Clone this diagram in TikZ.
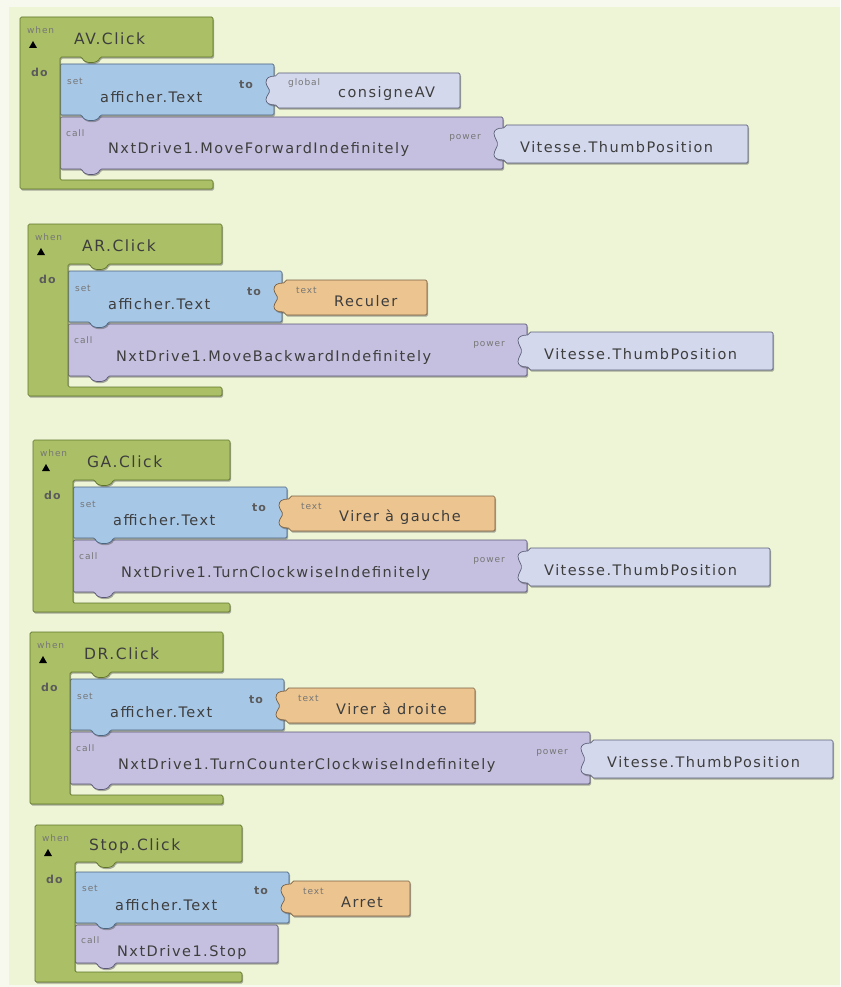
\documentclass[tikz,border=0pt]{standalone}
\usepackage{fontspec}
\setmainfont{DejaVu Sans}
\newfontfamily\blkfont[LetterSpace=10]{DejaVu Sans}
\usetikzlibrary{shadows}
\definecolor{bgpage}{HTML}{F7F9EF}
\definecolor{bgwork}{HTML}{EEF5D7}
\definecolor{evgreen}{HTML}{ABC066}
\definecolor{evline}{HTML}{5F7428}
\definecolor{setblue}{HTML}{A7C7E7}
\definecolor{setline}{HTML}{4B6480}
\definecolor{callpurple}{HTML}{C5C0DF}
\definecolor{callline}{HTML}{5A5676}
\definecolor{getlav}{HTML}{D3D8EC}
\definecolor{getline}{HTML}{5C6078}
\definecolor{txtorange}{HTML}{ECC48F}
\definecolor{txtline}{HTML}{7A6040}
\definecolor{lbldark}{HTML}{3E3E3E}
\definecolor{lblgray}{HTML}{767676}
\begin{document}
\begin{tikzpicture}[x=1pt,y=-1pt,
	blk/.style={line width=0.7pt, line join=round, rounded corners=1.5pt,
		drop shadow={shadow xshift=1pt,shadow yshift=-1.6pt,opacity=.45,fill=black!70}},
	evblk/.style={blk, fill=evgreen, draw=evline},
	setblk/.style={blk, fill=setblue, draw=setline},
	callblk/.style={blk, fill=callpurple, draw=callline},
	getblk/.style={blk, fill=getlav, draw=getline},
	strblk/.style={blk, fill=txtorange, draw=txtline},
	mainlbl/.style={font=\blkfont\fontsize{14.5}{16}\selectfont, text=lbldark, inner sep=0pt},
	evlbl/.style={font=\blkfont\fontsize{15.5}{17}\selectfont, text=lbldark, inner sep=0pt},
	smalllbl/.style={font=\blkfont\fontsize{9}{10}\selectfont, text=lblgray, inner sep=0pt},
	kwlbl/.style={font=\blkfont\fontsize{11}{12}\selectfont\bfseries, text=lbldark!85, inner sep=0pt}]

		\useasboundingbox[fill=bgpage] (0,0) rectangle (840,987);
		\fill[bgwork] (9,7) rectangle (840,985);

		% AV
		\begin{scope}[shift={(20,17)}]
		\path[callblk] (40,100) -- (483,100) -- (483,152) -- (80,152) .. controls (78,159) and (64,159) .. (62,152) -- (40,152) -- cycle;
		\path[getblk] (485,108) -- (728,108) -- (728,146) -- (485,146) -- (485,143) .. controls (477,143) and (474,141) .. (474,136) -- (478,127) -- (474,118) .. controls (474,113) and (477,111) .. (485,111) -- cycle;
		\path[setblk] (40,47) -- (254,47) -- (254,98) -- (80,98) .. controls (78,105) and (64,105) .. (62,98) -- (40,98) -- cycle;
		\path[getblk] (257,56) -- (440,56) -- (440,91) -- (257,91) -- (257,88) .. controls (249,88) and (246,86) .. (246,81) -- (250,74) -- (246,67) .. controls (246,61) and (249,59) .. (257,59) -- cycle;
		\path[evblk] (0,0) -- (193,0) -- (193,40) -- (80,40) .. controls (78,47) and (64,47) .. (62,40) -- (40,40) -- (40,163) -- (193,163) -- (193,172) -- (0,172) -- cycle;
		\fill[black] (9,31) -- (17,31) -- (13,24) -- cycle;
		\node[smalllbl, anchor=west] (avWhen) at (7,13) {when};
		\node[evlbl, anchor=west] (avEvt) at (54,22) {AV.Click};
		\node[kwlbl, anchor=west] (avDo) at (11,55) {do};
		\node[smalllbl, anchor=west] (avSet) at (47,64) {set};
		\node[mainlbl, anchor=west] (avComp) at (80,80) {afficher.Text};
		\node[kwlbl] (avTo) at (226,68) {to};
		\node[smalllbl, anchor=west] (avVlab) at (268,66) {global};
		\node[mainlbl, anchor=west] (avVal) at (318,77) {consigneAV};
		\node[smalllbl, anchor=west] (avCall) at (46,116) {call};
		\node[mainlbl, anchor=west] (avMeth) at (88,133) {NxtDrive1.MoveForwardIndefinitely};
		\node[smalllbl, anchor=east] (avPow) at (461,121) {power};
		\node[mainlbl, anchor=west] (avArg) at (500,130) {Vitesse.ThumbPosition};
		\end{scope}

		% AR
		\begin{scope}[shift={(28,224)}]
		\path[callblk] (40,100) -- (499,100) -- (499,152) -- (80,152) .. controls (78,159) and (64,159) .. (62,152) -- (40,152) -- cycle;
		\path[getblk] (501,108) -- (745,108) -- (745,146) -- (501,146) -- (501,143) .. controls (493,143) and (490,141) .. (490,136) -- (494,127) -- (490,118) .. controls (490,113) and (493,111) .. (501,111) -- cycle;
		\path[setblk] (40,47) -- (254,47) -- (254,98) -- (80,98) .. controls (78,105) and (64,105) .. (62,98) -- (40,98) -- cycle;
		\path[strblk] (257,56) -- (399,56) -- (399,91) -- (257,91) -- (257,88) .. controls (249,88) and (246,86) .. (246,81) -- (250,74) -- (246,67) .. controls (246,61) and (249,59) .. (257,59) -- cycle;
		\path[evblk] (0,0) -- (194,0) -- (194,40) -- (80,40) .. controls (78,47) and (64,47) .. (62,40) -- (40,40) -- (40,163) -- (194,163) -- (194,172) -- (0,172) -- cycle;
		\fill[black] (9,31) -- (17,31) -- (13,24) -- cycle;
		\node[smalllbl, anchor=west] (arWhen) at (7,13) {when};
		\node[evlbl, anchor=west] (arEvt) at (54,22) {AR.Click};
		\node[kwlbl, anchor=west] (arDo) at (11,55) {do};
		\node[smalllbl, anchor=west] (arSet) at (47,64) {set};
		\node[mainlbl, anchor=west] (arComp) at (80,80) {afficher.Text};
		\node[kwlbl] (arTo) at (226,68) {to};
		\node[smalllbl, anchor=west] (arVlab) at (268,66) {text};
		\node[mainlbl, anchor=west] (arVal) at (306,77) {Reculer};
		\node[smalllbl, anchor=west] (arCall) at (46,116) {call};
		\node[mainlbl, anchor=west] (arMeth) at (88,133) {NxtDrive1.MoveBackwardIndefinitely};
		\node[smalllbl, anchor=east] (arPow) at (477,121) {power};
		\node[mainlbl, anchor=west] (arArg) at (516,130) {Vitesse.ThumbPosition};
		\end{scope}

		% GA
		\begin{scope}[shift={(33,440)}]
		\path[callblk] (40,100) -- (494,100) -- (494,152) -- (80,152) .. controls (78,159) and (64,159) .. (62,152) -- (40,152) -- cycle;
		\path[getblk] (496,108) -- (737,108) -- (737,146) -- (496,146) -- (496,143) .. controls (488,143) and (485,141) .. (485,136) -- (489,127) -- (485,118) .. controls (485,113) and (488,111) .. (496,111) -- cycle;
		\path[setblk] (40,47) -- (254,47) -- (254,98) -- (80,98) .. controls (78,105) and (64,105) .. (62,98) -- (40,98) -- cycle;
		\path[strblk] (257,56) -- (462,56) -- (462,91) -- (257,91) -- (257,88) .. controls (249,88) and (246,86) .. (246,81) -- (250,74) -- (246,67) .. controls (246,61) and (249,59) .. (257,59) -- cycle;
		\path[evblk] (0,0) -- (197,0) -- (197,40) -- (80,40) .. controls (78,47) and (64,47) .. (62,40) -- (40,40) -- (40,163) -- (197,163) -- (197,172) -- (0,172) -- cycle;
		\fill[black] (9,31) -- (17,31) -- (13,24) -- cycle;
		\node[smalllbl, anchor=west] (gaWhen) at (7,13) {when};
		\node[evlbl, anchor=west] (gaEvt) at (54,22) {GA.Click};
		\node[kwlbl, anchor=west] (gaDo) at (11,55) {do};
		\node[smalllbl, anchor=west] (gaSet) at (47,64) {set};
		\node[mainlbl, anchor=west] (gaComp) at (80,80) {afficher.Text};
		\node[kwlbl] (gaTo) at (226,68) {to};
		\node[smalllbl, anchor=west] (gaVlab) at (268,66) {text};
		\node[mainlbl, anchor=west] (gaVal) at (306,77) {Virer à gauche};
		\node[smalllbl, anchor=west] (gaCall) at (46,116) {call};
		\node[mainlbl, anchor=west] (gaMeth) at (88,133) {NxtDrive1.TurnClockwiseIndefinitely};
		\node[smalllbl, anchor=east] (gaPow) at (472,121) {power};
		\node[mainlbl, anchor=west] (gaArg) at (511,130) {Vitesse.ThumbPosition};
		\end{scope}

		% DR
		\begin{scope}[shift={(30,632)}]
		\path[callblk] (40,100) -- (560,100) -- (560,152) -- (80,152) .. controls (78,159) and (64,159) .. (62,152) -- (40,152) -- cycle;
		\path[getblk] (562,108) -- (803,108) -- (803,146) -- (562,146) -- (562,143) .. controls (554,143) and (551,141) .. (551,136) -- (555,127) -- (551,118) .. controls (551,113) and (554,111) .. (562,111) -- cycle;
		\path[setblk] (40,47) -- (254,47) -- (254,98) -- (80,98) .. controls (78,105) and (64,105) .. (62,98) -- (40,98) -- cycle;
		\path[strblk] (257,56) -- (445,56) -- (445,91) -- (257,91) -- (257,88) .. controls (249,88) and (246,86) .. (246,81) -- (250,74) -- (246,67) .. controls (246,61) and (249,59) .. (257,59) -- cycle;
		\path[evblk] (0,0) -- (193,0) -- (193,40) -- (80,40) .. controls (78,47) and (64,47) .. (62,40) -- (40,40) -- (40,163) -- (193,163) -- (193,172) -- (0,172) -- cycle;
		\fill[black] (9,31) -- (17,31) -- (13,24) -- cycle;
		\node[smalllbl, anchor=west] (drWhen) at (7,13) {when};
		\node[evlbl, anchor=west] (drEvt) at (54,22) {DR.Click};
		\node[kwlbl, anchor=west] (drDo) at (11,55) {do};
		\node[smalllbl, anchor=west] (drSet) at (47,64) {set};
		\node[mainlbl, anchor=west] (drComp) at (80,80) {afficher.Text};
		\node[kwlbl] (drTo) at (226,68) {to};
		\node[smalllbl, anchor=west] (drVlab) at (268,66) {text};
		\node[mainlbl, anchor=west] (drVal) at (306,77) {Virer à droite};
		\node[smalllbl, anchor=west] (drCall) at (46,116) {call};
		\node[mainlbl, anchor=west] (drMeth) at (88,133) {NxtDrive1.TurnCounterClockwiseIndefinitely};
		\node[smalllbl, anchor=east] (drPow) at (538,121) {power};
		\node[mainlbl, anchor=west] (drArg) at (577,130) {Vitesse.ThumbPosition};
		\end{scope}

		% Stop
		\begin{scope}[shift={(35,825)}]
		\path[callblk] (40,100) -- (243,100) -- (243,138) -- (80,138) .. controls (78,145) and (64,145) .. (62,138) -- (40,138) -- cycle;
		\path[setblk] (40,47) -- (254,47) -- (254,98) -- (80,98) .. controls (78,105) and (64,105) .. (62,98) -- (40,98) -- cycle;
		\path[strblk] (257,56) -- (375,56) -- (375,91) -- (257,91) -- (257,88) .. controls (249,88) and (246,86) .. (246,81) -- (250,74) -- (246,67) .. controls (246,61) and (249,59) .. (257,59) -- cycle;
		\path[evblk] (0,0) -- (207,0) -- (207,37) -- (80,37) .. controls (78,44) and (64,44) .. (62,37) -- (40,37) -- (40,147) -- (207,147) -- (207,157) -- (0,157) -- cycle;
		\fill[black] (9,31) -- (17,31) -- (13,24) -- cycle;
		\node[smalllbl, anchor=west] (stWhen) at (7,13) {when};
		\node[evlbl, anchor=west] (stEvt) at (54,21) {Stop.Click};
		\node[kwlbl, anchor=west] (stDo) at (11,54) {do};
		\node[smalllbl, anchor=west] (stSet) at (47,63) {set};
		\node[mainlbl, anchor=west] (stComp) at (80,80) {afficher.Text};
		\node[kwlbl] (stTo) at (226,66) {to};
		\node[smalllbl, anchor=west] (stVlab) at (268,66) {text};
		\node[mainlbl, anchor=west] (stVal) at (306,77) {Arret};
		\node[smalllbl, anchor=west] (stCall) at (46,115) {call};
		\node[mainlbl, anchor=west] (stMeth) at (82,127) {NxtDrive1.Stop};
		\end{scope}

	\end{tikzpicture}
\end{document}
